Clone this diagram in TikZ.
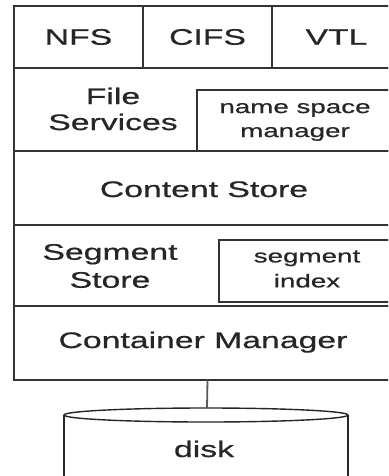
\documentclass[tikz,border=0pt]{standalone}
\usepackage{fontspec}
\setmainfont[FakeStretch=1.5, FakeBold=0.7]{Liberation Sans}
\begin{document}
\begin{tikzpicture}[x=1pt, y=-1pt,
  frame/.style={draw=black!80, line width=1.6pt, rectangle, inner sep=0pt,
                outer sep=0pt, anchor=north west},
  bigtext/.style={font=\fontsize{22.5}{26}\selectfont, text=black!85, inner sep=0pt},
  smalltext/.style={font=\fontsize{18.5}{24}\selectfont, text=black!85, inner sep=0pt},
  wire/.style={draw=black!65, line width=1.8pt},
  diskline/.style={draw=black!85, line width=1.4pt}]
\useasboundingbox (0,0) rectangle (388,476);
\clip (0,0) rectangle (388,476);

% protocol cells
\node[frame, bigtext, minimum width=129pt, minimum height=62pt] (nfs)  at (14,6)  {NFS};
\node[frame, bigtext, minimum width=129pt, minimum height=62pt] (cifs) at (143,6) {CIFS};
\node[frame, bigtext, minimum width=129pt, minimum height=62pt] (vtl)  at (272,6) {VTL};

% layer rows
\node[frame, minimum width=387pt, minimum height=83pt] (fsrow) at (14,68)  {};
\node[frame, minimum width=204pt, minimum height=61pt] (nsm)   at (197,90) {};
\node[frame, minimum width=387pt, minimum height=74pt] (csrow) at (14,151) {};
\node[frame, minimum width=387pt, minimum height=81pt] (ssrow) at (14,225) {};
\node[frame, minimum width=182pt, minimum height=62pt] (sidx)  at (219,240) {};
\node[frame, minimum width=387pt, minimum height=74pt] (cmrow) at (14,306) {};

% labels
\node[bigtext, align=center, font=\fontsize{22.5}{26}\selectfont] (fslabel) at (113,109) {File\\Services};
\node[smalltext, align=center, font=\fontsize{18.5}{24}\selectfont] (nsmlabel) at (295,122) {name space\\manager};
\node[bigtext, anchor=base] (cslabel) at (204,197) {Content Store};
\node[bigtext, align=center, font=\fontsize{22.5}{28}\selectfont] (sslabel) at (110,266) {Segment\\Store};
\node[smalltext, align=center, font=\fontsize{18.5}{25}\selectfont] (sidxlabel) at (307,269) {segment\\index};
\node[bigtext, anchor=base] (cmlabel) at (203,348) {Container Manager};

% disk
\coordinate (disktop) at (207,408);
\draw[diskline] (64,490) -- (64,415) (348,415) -- (348,490);
\draw[diskline] (206,415) ellipse [x radius=142, y radius=7];
\node[bigtext, anchor=base] (disk) at (204,457) {disk};

\draw[wire] (cmrow.south) -- (disktop);
\end{tikzpicture}
\end{document}
